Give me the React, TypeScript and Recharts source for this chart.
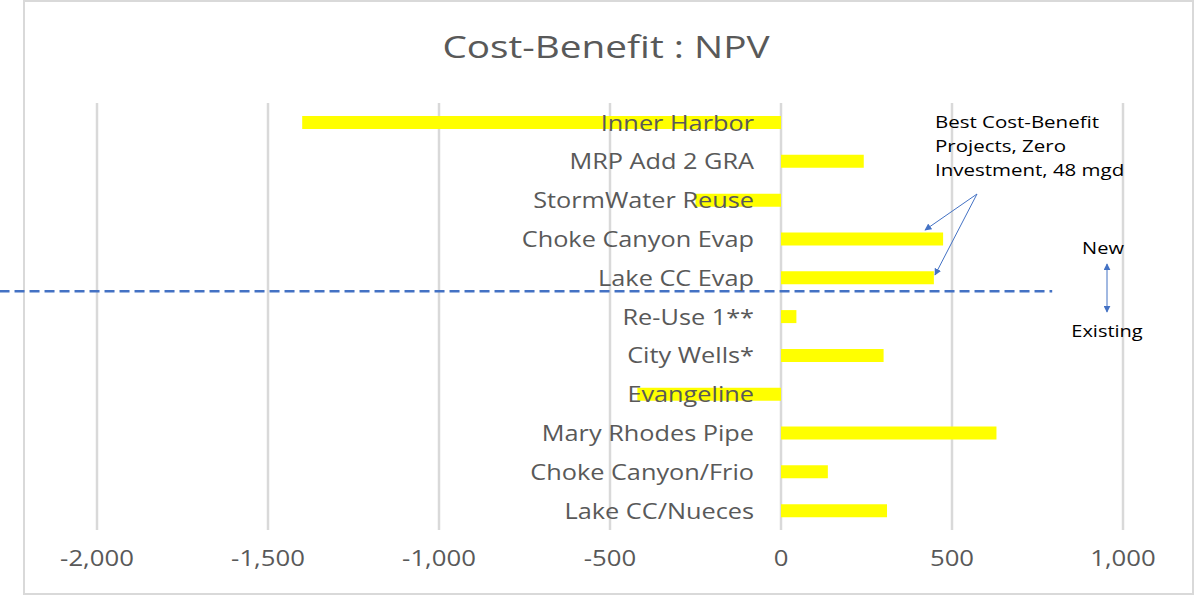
import React from 'react';
import { BarChart, Bar, XAxis, YAxis, CartesianGrid, ReferenceLine, LabelList } from 'recharts';

const projects = [
  'Inner Harbor',
  'MRP Add 2 GRA',
  'StormWater Reuse',
  'Choke Canyon Evap',
  'Lake CC Evap',
  'Re-Use 1**',
  'City Wells*',
  'Evangeline',
  'Mary Rhodes Pipe',
  'Choke Canyon/Frio',
  'Lake CC/Nueces',
];
const npv = [-1400, 242, -250, 474, 447, 45, 300, -420, 630, 137, 310];
const xTicks = [-2000, -1500, -1000, -500, 0, 500, 1000];
// dashed divider between new (above) and existing (below) projects,
// in rows counted from the top (Lake CC Evap is row 4, Re-Use 1** row 5)
const splitRow = 4.35;
// it runs from the left edge of the picture to about +790 on the NPV axis
const splitFrom = -2285;
const splitTo = 793;

const n = projects.length;
// in a vertical layout the numeric row axis runs top-down like the categories
const data = projects.map((name, i) => ({ name, npv: npv[i], row: i }));

const FONT = '"Open Sans", sans-serif';
const GREY = '#595959';
const BLUE = '#4472c4';

const fmt = (v: number) => v.toLocaleString('en-US');

// the original picture is a little stretched sideways, so the text is too
const Wide = ({ x, y, k = 1.2, anchor = 'start', size, fill = GREY, children }: any) => (
  <text
    transform={`translate(${x},${y}) scale(${k},1)`}
    textAnchor={anchor}
    fontSize={size}
    fontFamily={FONT}
    fill={fill}
  >
    {children}
  </text>
);

// category name drawn just left of the zero line, on top of the bar
const ProjectLabel = (props: any) => {
  const { x, y, width, height, value, index } = props;
  const v = npv[index];
  const zero = v >= 0 ? x : width < 0 ? x : x + width;
  return (
    <Wide x={zero - 27} y={y + height / 2 + 8} k={1.15} anchor="end" size={22}>
      {value}
    </Wide>
  );
};

const TickLabel = (props: any) => {
  const { x, y, payload } = props;
  return (
    <Wide x={x} y={y + 16} k={1.17} anchor="middle" size={22}>
      {fmt(payload.value)}
    </Wide>
  );
};

export default function App() {
  return (
    <div style={{ position: 'absolute', left: 0, top: 0, width: 1200, height: 600, background: '#fff', overflow: 'hidden' }}>
      <div style={{ position: 'absolute', left: 23, top: 0, width: 1167, height: 591, border: '2px solid #d9d9d9' }} />
      <div style={{ position: 'absolute', left: 0, top: 0 }}>
        <BarChart width={1200} height={600} data={data} layout="vertical" margin={{ top: 103, right: 77, bottom: 30, left: 97 }} barSize={13}>
          <CartesianGrid horizontal={false} stroke="#d9d9d9" strokeWidth={2.5} />
          <XAxis
            type="number"
            dataKey="npv"
            domain={[-2000, 1000]}
            ticks={xTicks}
            axisLine={false}
            tickLine={false}
            height={40}
            tickMargin={14}
            tick={<TickLabel />}
            interval={0}
          />
          <YAxis type="category" dataKey="name" hide />
          <YAxis yAxisId="row" type="number" dataKey="row" domain={[-0.5, n - 0.5]} allowDataOverflow hide />
          <Bar dataKey="npv" fill="#ffff00" isAnimationActive={false}>
            <LabelList dataKey="name" content={ProjectLabel} />
          </Bar>
          <ReferenceLine
            yAxisId="row"
            ifOverflow="visible"
            segment={[{ x: splitFrom, y: splitRow }, { x: splitTo, y: splitRow }]}
            stroke={BLUE}
            strokeWidth={2.5}
            strokeDasharray="10 5"
          />
        </BarChart>
      </div>
      <svg width={1200} height={600} style={{ position: 'absolute', left: 0, top: 0, pointerEvents: 'none' }}>
        <defs>
          <marker id="ah" viewBox="0 0 10 10" refX="9" refY="5" markerWidth="7" markerHeight="7" orient="auto-start-reverse">
            <path d="M0,0 L10,5 L0,10 z" fill={BLUE} />
          </marker>
        </defs>
        <Wide x={606} y={58} k={1.25} anchor="middle" size={31}>Cost-Benefit : NPV</Wide>
        <Wide x={935} y={128} k={1.28} size={16} fill="#000">Best Cost-Benefit</Wide>
        <Wide x={935} y={152} k={1.28} size={16} fill="#000">Projects, Zero</Wide>
        <Wide x={935} y={176} k={1.28} size={16} fill="#000">Investment, 48 mgd</Wide>
        <Wide x={1103} y={254} k={1.25} anchor="middle" size={16} fill="#000">New</Wide>
        <Wide x={1107} y={337} k={1.25} anchor="middle" size={16} fill="#000">Existing</Wide>
        <line x1={977} y1={194} x2={925} y2={230} stroke={BLUE} strokeWidth={1} markerEnd="url(#ah)" />
        <line x1={977} y1={194} x2={935} y2={275} stroke={BLUE} strokeWidth={1} markerEnd="url(#ah)" />
        <line x1={1107} y1={264} x2={1107} y2={312} stroke={BLUE} strokeWidth={1} markerStart="url(#ah)" markerEnd="url(#ah)" />
      </svg>
    </div>
  );
}
